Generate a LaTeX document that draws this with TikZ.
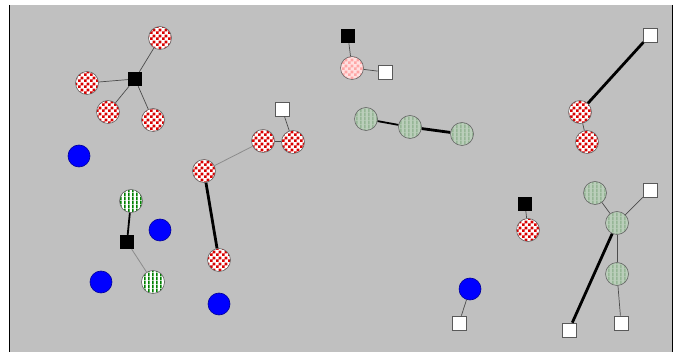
\documentclass[tikz,border=0pt]{standalone}
\usepackage{xcolor}
\usetikzlibrary{patterns}

% --- Fill patterns for the node discs ---
\pgfdeclarepatternformonly{checks}{\pgfpointorigin}{\pgfqpoint{6pt}{6pt}}{\pgfqpoint{6pt}{6pt}}{%
  \pgfpathrectangle{\pgfpointorigin}{\pgfqpoint{3.05pt}{3.05pt}}%
  \pgfpathrectangle{\pgfqpoint{3pt}{3pt}}{\pgfqpoint{3.05pt}{3.05pt}}%
  \pgfusepath{fill}}
\pgfdeclarepatternformonly{vstripes}{\pgfpointorigin}{\pgfqpoint{4pt}{4pt}}{\pgfqpoint{4pt}{4pt}}{%
  \pgfpathrectangle{\pgfpointorigin}{\pgfqpoint{2pt}{4.05pt}}%
  \pgfusepath{fill}}

\definecolor{canvas}{RGB}{192,192,192}
\definecolor{sage}{RGB}{186,206,186}
\definecolor{sagedk}{RGB}{150,182,150}

\begin{document}
\begin{tikzpicture}[
  x=1pt, y=-1pt,
  disc/.style    ={circle, draw=black!60, line width=0.6pt, minimum size=23pt, inner sep=0pt},
  chk/.style     ={disc, preaction={fill=white}, pattern=checks, pattern color=red!85!black},
  chkpale/.style ={disc, preaction={fill=red!12}, pattern=checks, pattern color=red!35},
  strp/.style    ={disc, preaction={fill=white}, pattern=vstripes, pattern color=green!50!black},
  strpgray/.style={disc, preaction={fill=sage}, pattern=vstripes, pattern color=sagedk},
  dot/.style     ={disc, fill=blue, draw=blue!60!black, minimum size=22pt},
  blk/.style     ={rectangle, fill=black, minimum size=14pt, inner sep=0pt},
  wht/.style     ={rectangle, fill=white, draw=black!65, line width=0.6pt, minimum size=14pt, inner sep=0pt},
  thin/.style    ={draw=black!70, line width=0.7pt},
  faint/.style   ={draw=black!45, line width=0.8pt},
  mid/.style     ={draw=black, line width=1.8pt},
  thick/.style   ={draw=black, line width=2.8pt}
]
\useasboundingbox (0,0) rectangle (677,352);
% --- Canvas ---
\fill[white] (0,0) rectangle (677,352);
\fill[canvas] (10,5) rectangle (672,352);
\draw[line width=1.5pt] (9.5,5) -- (9.5,352);
\draw[line width=1.5pt] (672.5,5) -- (672.5,352);

% --- Star of checkered discs, top left ---
\node[blk] (hubA) at (135,79) {};
\node[chk] (a1) at (160,38)  {};
\node[chk] (a2) at (87,83)   {};
\node[chk] (a3) at (108,112) {};
\node[chk] (a4) at (153,120) {};
\draw[thin] (hubA) -- (a1);
\draw[thin] (hubA) -- (a2);
\draw[thin] (hubA) -- (a3);
\draw[thin] (hubA) -- (a4);

% --- Chain of checkered discs, middle left ---
\node[wht] (sqB) at (282,109) {};
\node[chk] (b1) at (293,142) {};
\node[chk] (b2) at (263,141) {};
\node[chk] (b3) at (204,171) {};
\node[chk] (b4) at (219,260) {};
\draw[thin]  (sqB) -- (b1);
\draw[thin]  (b1) -- (b2);
\draw[faint] (b2) -- (b3);
\draw[thick] (b3) -- (b4);

% --- Pale disc between two squares ---
\node[blk]     (sqC1) at (348,36) {};
\node[chkpale] (c1)   at (352,68) {};
\node[wht]     (sqC2) at (385,72) {};
\draw[thin] (sqC1) -- (c1);
\draw[thin] (c1) -- (sqC2);

% --- Row of sage discs ---
\node[strpgray] (d1) at (366,119) {};
\node[strpgray] (d2) at (410,127) {};
\node[strpgray] (d3) at (462,134) {};
\draw[mid]   (d1) -- (d2);
\draw[thick] (d2) -- (d3);

% --- Top right pair ---
\node[wht] (sqE) at (650,35)  {};
\node[chk] (e1)  at (580,112) {};
\node[chk] (e2)  at (587,142) {};
\draw[thick] (sqE) -- (e1);
\draw[thin]  (e1) -- (e2);

% --- Green striped pair, bottom left ---
\node[strp] (f1)   at (131,201) {};
\node[blk]  (hubF) at (127,242) {};
\node[strp] (f2)   at (153,282) {};
\draw[mid]   (f1) -- (hubF);
\draw[faint] (hubF) -- (f2);

% --- Single checkered disc under a square ---
\node[blk] (sqG) at (525,204) {};
\node[chk] (g1)  at (528,230) {};
\draw[thin] (sqG) -- (g1);

% --- Sage tree, bottom right ---
\node[strpgray] (h1) at (595,193) {};
\node[strpgray] (h2) at (617,223) {};
\node[strpgray] (h3) at (617,274) {};
\node[wht] (sqH1) at (650,190) {};
\node[wht] (sqH2) at (569,330) {};
\node[wht] (sqH3) at (621,323) {};
\draw[thin]  (h1) -- (h2);
\draw[thin]  (h2) -- (sqH1);
\draw[thin]  (h2) -- (h3);
\draw[thin]  (h3) -- (sqH3);
\draw[thick] (h2) -- (sqH2);

% --- Blue discs ---
\node[dot] (u1) at (79,156)  {};
\node[dot] (u2) at (160,230) {};
\node[dot] (u3) at (101,282) {};
\node[dot] (u4) at (219,304) {};
\node[dot] (u5) at (470,289) {};
\node[wht] (sqU) at (459,323) {};
\draw[thin] (u5) -- (sqU);
\end{tikzpicture}
\end{document}
